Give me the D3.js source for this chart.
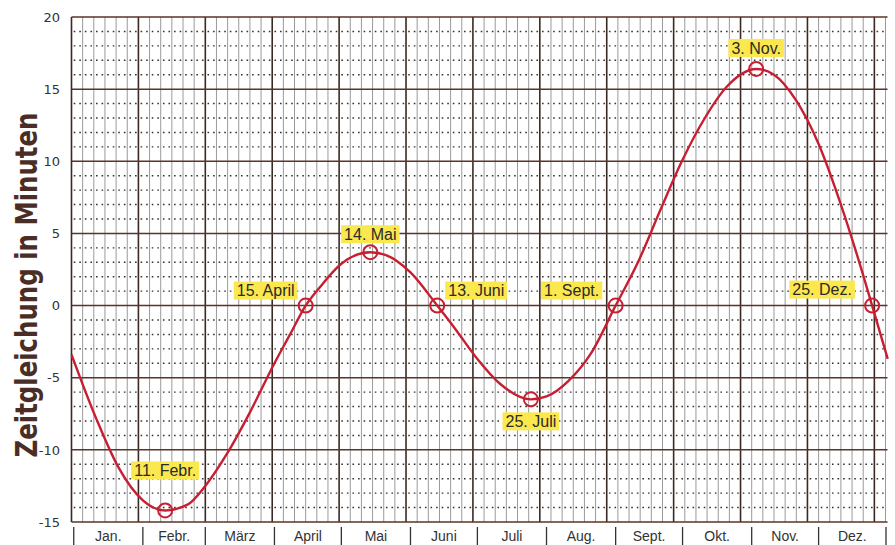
<!DOCTYPE html>
<html>
<head>
<meta charset="utf-8">
<script src="https://cdn.jsdelivr.net/npm/d3@7"></script>
<style>
  body { margin: 0; background: #fff; }
  svg { display: block; }
</style>
</head>
<body>
<div id="chart"></div>
<script>
// day of year (1-based) and equation of time in minutes
const days = [0, 11, 21, 32, 42, 52, 60, 70, 80, 91, 98, 105, 111, 121, 134, 141, 152, 164, 172, 182, 192, 206, 213, 223, 233, 244, 254, 264, 274, 284, 294, 307, 315, 325, 335, 345, 355, 359, 366];
const minutes = [-3.4, -7.8, -11.2, -13.5, -14.2, -13.8, -12.5, -10.2, -7.4, -4.0, -2.0, 0, 1.2, 2.9, 3.7, 3.5, 2.3, 0, -1.6, -3.7, -5.4, -6.5, -6.3, -5.2, -3.3, 0, 3.0, 6.6, 10.1, 13.0, 15.2, 16.4, 16.0, 14.2, 11.2, 7.0, 2.1, 0, -3.7];

const months = ["Jan.", "Febr.", "März", "April", "Mai", "Juni", "Juli", "Aug.", "Sept.", "Okt.", "Nov.", "Dez."];
const monthStarts = [1, 32, 60, 91, 121, 152, 182, 213, 244, 274, 305, 335, 366];

const yTicks = [20, 15, 10, 5, 0, -5, -10, -15];

const markText = ["11. Febr.", "15. April", "14. Mai", "13. Juni", "25. Juli", "1. Sept.", "3. Nov.", "25. Dez."];
const markDays = [42, 105, 134, 164, 206, 244, 307, 359];
const markValues = [-14.2, 0, 3.7, 0, -6.5, 0, 16.4, 0];
// label box offsets from the marker
const markOffsets = [[0, -40], [-40, -15], [0, -18], [39, -15], [0, 22], [-44, -15], [0, -21], [-50, -16]];

const width = 895, height = 545;
const red = "#c81e32";

const svg = d3.select("#chart").append("svg")
    .attr("width", width)
    .attr("height", height);

const x = d3.scaleLinear().domain([0, 365]).range([71.5, 885.5]);
const y = d3.scaleLinear().domain([-15, 20]).range([522, 17]);

const grid = svg.append("g").attr("class", "grid");

// thin 5-day lines
grid.selectAll(".thinV")
    .data(d3.range(0, 366, 5).filter(d => d % 30 !== 0))
    .join("line")
    .attr("x1", d => x(d)).attr("x2", d => x(d))
    .attr("y1", y(20)).attr("y2", y(-15))
    .attr("stroke", "#9a9a9a")
    .attr("stroke-width", 1);

// dotted minute lines, two dashes per 5-day cell
const cell = x(5) - x(0);
grid.selectAll(".minorH")
    .data(d3.range(-15, 21).filter(v => v % 5 !== 0))
    .join("line")
    .attr("x1", x(0)).attr("x2", x(365))
    .attr("y1", d => y(d)).attr("y2", d => y(d))
    .attr("stroke", "#333")
    .attr("stroke-width", 1.4)
    .attr("stroke-dasharray", `1.6,${cell / 2 - 1.6}`)
    .attr("stroke-dashoffset", cell / 2 - 2.2);

// heavy 30-day lines
grid.selectAll(".heavyV")
    .data(d3.range(0, 366, 30))
    .join("line")
    .attr("x1", d => x(d)).attr("x2", d => x(d))
    .attr("y1", y(20)).attr("y2", y(-15))
    .attr("stroke", "#3b2a24")
    .attr("stroke-width", 1.6);

// heavy 5-minute lines
grid.selectAll(".heavyH")
    .data(yTicks)
    .join("line")
    .attr("x1", x(0)).attr("x2", x(365) + 2)
    .attr("y1", d => y(d)).attr("y2", d => y(d))
    .attr("stroke", "#5a3428")
    .attr("stroke-width", 1.5);

// y axis labels
svg.append("g")
    .selectAll("text")
    .data(yTicks)
    .join("text")
    .attr("x", 60)
    .attr("y", d => y(d))
    .attr("dy", "0.36em")
    .attr("text-anchor", "end")
    .attr("font-family", "DejaVu Sans, Verdana, sans-serif")
    .attr("font-size", 13)
    .attr("fill", "#333")
    .text(d => d);

svg.append("text")
    .attr("transform", "translate(37,285) rotate(-90)")
    .attr("text-anchor", "middle")
    .attr("font-family", "'Liberation Sans Narrow', 'DejaVu Sans Condensed', Arial, sans-serif")
    .attr("font-weight", "bold")
    .attr("font-size", 31)
    .attr("textLength", 345)
    .attr("lengthAdjust", "spacingAndGlyphs")
    .attr("fill", "#4a2e26")
    .text("Zeitgleichung in Minuten");

// month axis
const axisG = svg.append("g");
axisG.selectAll("line")
    .data(monthStarts)
    .join("line")
    .attr("x1", d => Math.min(x(d), 886)).attr("x2", d => Math.min(x(d), 886))
    .attr("y1", 527).attr("y2", height)
    .attr("stroke", "#333")
    .attr("stroke-width", 1.3);
axisG.selectAll("text")
    .data(months)
    .join("text")
    .attr("x", (d, i) => (x(monthStarts[i]) + Math.min(x(monthStarts[i + 1]), 886)) / 2)
    .attr("y", 541)
    .attr("text-anchor", "middle")
    .attr("font-family", "'Liberation Sans', Arial, sans-serif")
    .attr("font-size", 14)
    .attr("fill", "#333")
    .text(d => d);

// curve
const line = d3.line()
    .x((d, i) => x(days[i]))
    .y(d => y(d))
    .curve(d3.curveMonotoneX);

svg.append("path")
    .datum(minutes)
    .attr("d", line)
    .attr("fill", "none")
    .attr("stroke", red)
    .attr("stroke-width", 2.4);

// markers
svg.append("g")
    .selectAll("circle")
    .data(markDays)
    .join("circle")
    .attr("cx", d => x(d))
    .attr("cy", (d, i) => y(markValues[i]))
    .attr("r", 7)
    .attr("fill", "none")
    .attr("stroke", red)
    .attr("stroke-width", 2);

// yellow labels
const labelG = svg.append("g")
    .selectAll("g")
    .data(markText)
    .join("g")
    .attr("transform", (d, i) => `translate(${x(markDays[i]) + markOffsets[i][0]},${y(markValues[i]) + markOffsets[i][1]})`);

labelG.append("text")
    .attr("text-anchor", "middle")
    .attr("dy", "0.35em")
    .attr("font-family", "'Liberation Sans', Arial, sans-serif")
    .attr("font-size", 16)
    .attr("fill", "#2a2a2a")
    .text(d => d);

labelG.each(function () {
    const g = d3.select(this);
    const bb = g.select("text").node().getBBox();
    g.insert("rect", "text")
        .attr("x", bb.x - 3)
        .attr("y", -9)
        .attr("width", bb.width + 6)
        .attr("height", 18)
        .attr("fill", "#fbe74e");
});
</script>
</body>
</html>
